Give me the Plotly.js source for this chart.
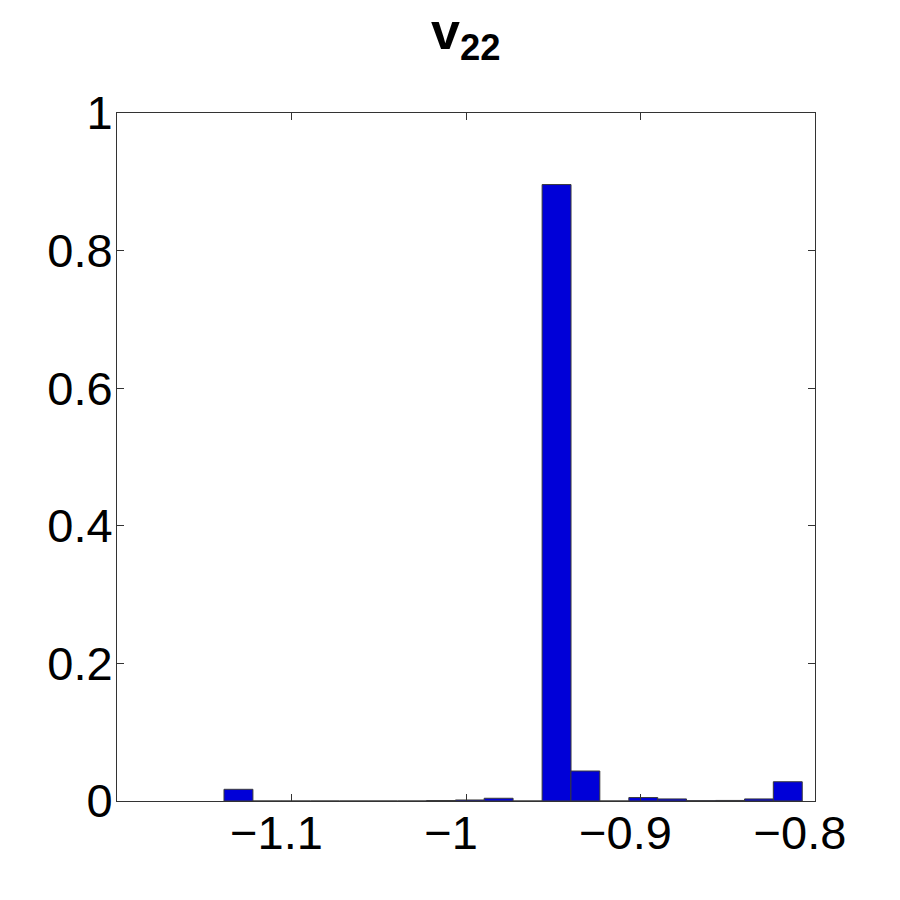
<!DOCTYPE html>
<html>
<head>
<meta charset="utf-8">
<script src="https://cdn.plot.ly/plotly-3.0.1.min.js"></script>
<style>
  html, body { margin: 0; padding: 0; background: #fff; }
  #histChart { width: 900px; height: 900px; }
</style>
</head>
<body>
<div id="histChart"></div>
<script>
// bin centres of the histogram (20 bins)
const binCenters = [
  -1.1304, -1.1138, -1.0973, -1.0807, -1.0641, -1.0476, -1.0310, -1.0144, -0.9978, -0.9813,
  -0.9647, -0.9481, -0.9316, -0.9150, -0.8984, -0.8819, -0.8653, -0.8487, -0.8321, -0.8156
];
// relative frequency in each bin
const binFreq = [
  0.017, 0, 0, 0, 0, 0, 0, 0.0007, 0.0015, 0.004,
  0, 0.896, 0.0436, 0, 0.005, 0.003, 0.0005, 0.0008, 0.003, 0.028
];
const binWidth = 0.01657;
const xTicks = [-1.1, -1.0, -0.9, -0.8];
const xTickText = ['\u22121.1', '\u22121', '\u22120.9', '\u22120.8'];
const yTicks = [0, 0.2, 0.4, 0.6, 0.8, 1];
const yTickText = ['0', '0.2', '0.4', '0.6', '0.8', '1'];

const tickFont = { family: '"Liberation Sans", Arial, sans-serif', size: 47, color: '#000' };

const trace = {
  type: 'bar',
  x: binCenters,
  y: binFreq,
  width: binWidth,
  marker: { color: '#0000D8', line: { color: '#3a3a3a', width: 1 } },
  hoverinfo: 'x+y'
};

const axisCommon = {
  showgrid: false,
  zeroline: false,
  showline: true,
  linecolor: '#333',
  linewidth: 1,
  mirror: 'allticks',
  ticks: 'inside',
  ticklen: 7,
  tickcolor: '#333',
  tickfont: tickFont
};

const layout = {
  width: 900,
  height: 900,
  margin: { l: 117, r: 85, t: 113, b: 99 },
  paper_bgcolor: '#fff',
  plot_bgcolor: '#fff',
  showlegend: false,
  bargap: 0,
  title: {
    text: '<b>v<sub>22</sub></b>',
    x: 0.5175,
    xanchor: 'center',
    y: 0.966,
    yanchor: 'middle',
    font: { family: '"Liberation Sans", Arial, sans-serif', size: 52, color: '#000' }
  },
  xaxis: Object.assign({}, axisCommon, {
    range: [-1.2, -0.8],
    tickmode: 'array',
    tickvals: xTicks,
    ticktext: xTickText,
    ticklabelshift: -15,
    ticklabelstandoff: -9
  }),
  yaxis: Object.assign({}, axisCommon, {
    range: [0, 1],
    tickmode: 'array',
    tickvals: yTicks,
    ticktext: yTickText,
    ticklabelstandoff: -6
  })
};

Plotly.newPlot('histChart', [trace], layout, { displayModeBar: false, staticPlot: true });
</script>
</body>
</html>
